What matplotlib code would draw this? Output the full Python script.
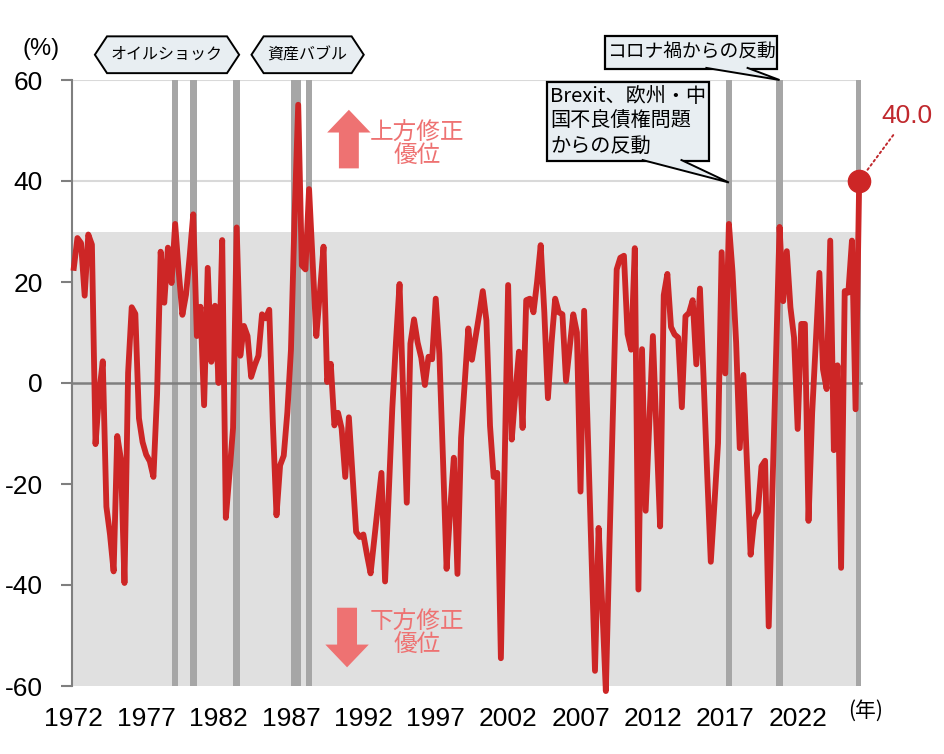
import numpy as np
import matplotlib
matplotlib.use("Agg")
import matplotlib.pyplot as plt
from matplotlib.path import Path
from matplotlib.patches import FancyArrow, Polygon

# ---------------- data (quarterly, 1972Q1 -> ) ----------------
values = [
    22.8, 28.7, 27.7, 17.3, 29.4, 27.4, -12.1, -2.0, 4.3, -24.5,
    -30.0, -37.3, -10.5, -15.0, -39.6, 2.0, 15.0, 13.7, -7.0, -11.7,
    -14.2, -15.5, -18.6, -2.3, 26.0, 15.9, 26.8, 19.8, 31.5, 22.0,
    13.5, 17.5, 25.0, 33.4, 9.3, 15.1, -4.4, 22.8, 4.2, 15.3,
    0.0, 28.3, -26.7, -18.0, -8.9, 30.8, 5.4, 11.3, 9.3, 1.2,
    3.5, 5.4, 13.6, 12.8, 14.5, -8.0, -26.2, -16.3, -14.4, -5.8,
    6.6, 33.0, 55.1, 23.3, 22.5, 38.4, 24.0, 9.3, 18.0, 27.0,
    0.2, 3.8, -8.4, -5.9, -9.0, -18.6, -6.8, -18.0, -29.5, -30.5,
    -30.0, -34.0, -37.7, -31.0, -24.5, -17.8, -39.3, -22.0, -5.0, 8.0,
    19.6, -2.0, -23.7, 7.8, 12.6, 8.0, 5.0, -0.4, 5.2, 4.7,
    16.7, 5.8, -15.0, -36.8, -25.0, -14.8, -37.8, -10.9, 0.0, 10.8,
    4.6, 9.0, 13.5, 18.2, 12.4, -8.5, -18.6, -17.8, -54.5, -18.0,
    19.4, -11.2, -2.0, 6.2, -8.9, 16.4, 16.7, 14.0, 20.0, 27.3,
    14.0, -3.0, 8.0, 16.7, 14.0, 13.6, 0.4, 7.0, 13.6, 10.0,
    -21.5, 14.3, -9.5, -33.0, -57.0, -28.7, -44.0, -61.0, -32.0, -5.0,
    22.5, 24.8, 25.2, 9.7, 6.6, 26.7, -40.9, 6.7, -25.3, -8.0,
    9.3, -10.0, -28.4, 17.4, 21.6, 11.1, 9.6, 9.0, -4.8, 13.2,
    13.9, 16.4, 3.7, 18.7, 1.0, -18.0, -35.4, -24.0, -11.9, 25.9,
    1.9, 31.5, 22.0, 8.0, -12.9, 1.6, -16.0, -34.0, -27.0, -25.5,
    -16.5, -15.4, -48.2, -22.0, 5.0, 30.9, 16.2, 26.1, 15.0, 9.0,
    -9.1, 11.7, 11.7, -27.3, -6.0, 8.0, 21.8, 2.7, -1.2, 28.2,
    -13.3, 3.5, -36.6, 18.2, 17.9, 28.2, -5.2, 40.0,
]
start_year = 1972
label_every = 20        # quarters between year labels
minor_every = 16        # quarters between small ticks on the zero line
upper_band = 30         # shaded band: -60 .. 30
y_ticks = [-60, -40, -20, 0, 20, 40, 60]
hex_labels = ["オイルショック", "資産バブル"]
callout_corona = "コロナ禍からの反動"
callout_brexit = "Brexit、欧州・中\n国不良債権問題\nからの反動"
up_text = "上方修正\n優位"
down_text = "下方修正\n優位"

# ---------------- style ----------------
plt.rcParams["font.family"] = ["Liberation Sans", "Noto Sans CJK JP", "DejaVu Sans"]
plt.rcParams["axes.unicode_minus"] = False
CJK = ["Noto Sans CJK JP", "DejaVu Sans"]
RED = "#cd2626"
DARKRED = "#c0282d"
SALMON = "#ee7272"
BOXFC = "#e8eef2"
AXGRAY = "#7f7f7f"

vals = np.array(values)
x = np.arange(len(vals))

fig = plt.figure(figsize=(9.44, 7.54), dpi=100)
ax = fig.add_axes([72 / 944, 1 - 686 / 754, (861 - 72) / 944, (686 - 80) / 754])
ax.set_xlim(-0.5, len(vals) - 0.5)
ax.set_ylim(-60, 60)

# shaded band and bars where the series exceeds the band
ax.axhspan(-60, upper_band, color="#e0e0e0", lw=0, zorder=1)
above = vals > upper_band
ax.bar(x[above], 120, bottom=-60, width=1.8, color="#a6a6a6", lw=0, zorder=2)

# main line
ax.plot(x, vals, color=RED, lw=4.2, zorder=4, clip_on=False)
ax.plot(x[-1:], vals[-1:], "o", ms=16, color=RED, zorder=5, clip_on=False)

# axes styling
ax.set_yticks(y_ticks)
ax.set_yticklabels([str(v) for v in y_ticks])
ax.yaxis.grid(True, color="#d9d9d9", lw=1.5)
ax.set_axisbelow(True)
for s in ("right", "bottom"):
    ax.spines[s].set_visible(False)
ax.spines["left"].set_color(AXGRAY)
ax.spines["left"].set_linewidth(1.5)
ax.spines["top"].set_position(("data", 0))
ax.spines["top"].set_color(AXGRAY)
ax.spines["top"].set_linewidth(1.8)
ax.spines["top"].set_zorder(3)
ax.tick_params(axis="y", direction="out", length=8, width=1.5, color=AXGRAY,
               pad=13, labelsize=19)

major_pos = np.arange(0, len(vals), label_every)
ax.set_xticks(major_pos)
ax.set_xticklabels([str(start_year + p // 4) for p in major_pos])
ax.set_xticks(np.arange(-0.5, len(vals), minor_every), minor=True)
ax.tick_params(axis="x", which="major", length=0, pad=15, labelsize=19,
               bottom=True, top=False)
ax.tick_params(axis="x", which="minor", bottom=False, top=True, direction="in",
               length=5, width=1.5, color=AXGRAY, labeltop=False, labelbottom=False)

# unit labels
fig.text(41 / 944, 1 - 49 / 754, "(%)", ha="center", va="center", fontsize=17)
fig.text(866 / 944, 1 - 711 / 754, "(年)", ha="center", va="center", fontsize=15,
         family=CJK)


# ---------------- box shapes ----------------
def hexbox(x0, y0, width, height, mutation_size):
    padx = 0.25 * mutation_size
    pady = 0.62 * mutation_size
    x0 -= padx
    y0 -= pady
    w = width + 2 * padx
    h = height + 2 * pady
    tip = 0.33 * h
    verts = [(x0, y0), (x0 + w, y0), (x0 + w + tip, y0 + h / 2),
             (x0 + w, y0 + h), (x0, y0 + h), (x0 - tip, y0 + h / 2), (x0, y0)]
    return Path(verts, closed=True)


def make_rect(padx, pady):
    def rect(x0, y0, width, height, mutation_size):
        px = padx * mutation_size
        py = pady * mutation_size
        return Path([(x0 - px, y0 - py), (x0 + width + px, y0 - py),
                     (x0 + width + px, y0 + height + py), (x0 - px, y0 + height + py),
                     (x0 - px, y0 - py)], closed=True)
    return rect


for txt, xc in zip(hex_labels, [25.75, 64.6]):
    ax.text(xc, 65.0, txt, ha="center", va="center", fontsize=11.5, family=CJK,
            bbox=dict(boxstyle=hexbox, fc=BOXFC, ec="black", lw=1.4), zorder=6)

# callouts
t_corona = ax.text(170.5, 65.5, callout_corona, ha="center", va="center",
                   fontsize=13.5, family=CJK, zorder=6,
                   bbox=dict(boxstyle=make_rect(0.08, 0.32), fc=BOXFC, ec="black", lw=1.6))
t_brexit = ax.text(131.6, 51.8, callout_brexit, ha="left", va="center", fontsize=14.5,
                   family=CJK, linespacing=1.22, zorder=6,
                   bbox=dict(boxstyle=make_rect(0.14, 0.22), fc=BOXFC, ec="black", lw=1.6))


def add_pointer(txt, frac_a, frac_b, tip):
    fig.canvas.draw()
    bb = txt.get_bbox_patch().get_window_extent()
    inv = ax.transData.inverted()
    xa = bb.x0 + frac_a * bb.width
    xb = bb.x0 + frac_b * bb.width
    y0 = bb.y0 + 0.8
    a = inv.transform((xa, y0))
    b = inv.transform((xb, y0))
    a_in = inv.transform((xa, y0 + 3))
    b_in = inv.transform((xb, y0 + 3))
    ax.add_patch(Polygon([a_in, a, tip, b, b_in], closed=True, fc=BOXFC, ec="none",
                         zorder=7, clip_on=False))
    ax.plot([a[0], tip[0], b[0]], [a[1], tip[1], b[1]], color="black", lw=1.4,
            zorder=7.1, clip_on=False, solid_joinstyle="miter")


add_pointer(t_corona, 0.59, 0.83, (195, 60))
add_pointer(t_brexit, 0.59, 0.83, (181, 39.7))

# last value label
ax.annotate(f"{vals[-1]:.1f}", xy=(x[-1], vals[-1]), xytext=(230.3, 52.9),
            textcoords="data", ha="center", va="center", fontsize=19, color=DARKRED,
            annotation_clip=False,
            arrowprops=dict(arrowstyle="-", linestyle=":", color=DARKRED, lw=1.4,
                            relpos=(0.33, 0.0), shrinkA=4, shrinkB=9))

# up / down arrows with text
ax.add_patch(FancyArrow(76, 42.5, 0, 11.6, width=5.5, head_width=12,
                        head_length=4.5, length_includes_head=True,
                        color=SALMON, lw=0, zorder=6))
ax.add_patch(FancyArrow(75.5, -44.5, 0, -11.8, width=5.5, head_width=12,
                        head_length=4.5, length_includes_head=True,
                        color=SALMON, lw=0, zorder=6))
ax.text(94.8, 47.3, up_text, ha="center", va="center", fontsize=17, color=SALMON,
        family=CJK, linespacing=1.08, zorder=6)
ax.text(94.8, -49.6, down_text, ha="center", va="center", fontsize=17, color=SALMON,
        family=CJK, linespacing=1.08, zorder=6)

fig.savefig("out.png", dpi=100)
